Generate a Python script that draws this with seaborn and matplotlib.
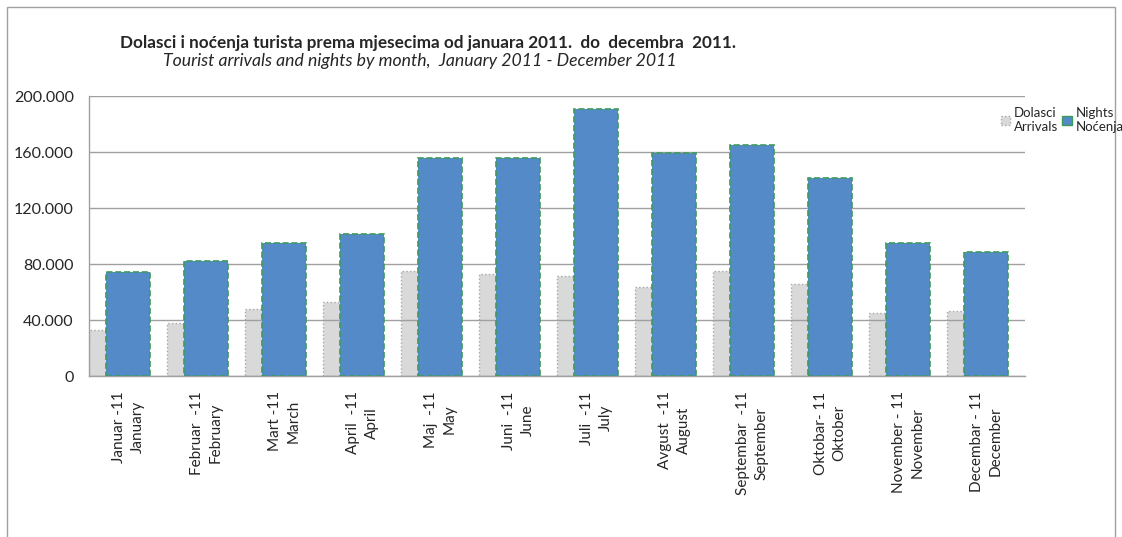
import numpy as np
import pandas as pd
import matplotlib
matplotlib.use('Agg')
import matplotlib.pyplot as plt
import seaborn as sns
from matplotlib.patches import Patch, Rectangle
from matplotlib.ticker import FuncFormatter

# Podaci (procijenjeni sa slike)
mjeseci = [
    'Januar -11\nJanuary', 'Februar  -11\nFebruary', 'Mart -11\nMarch',
    'April  -11\nApril', 'Maj  -11\nMay', 'Juni  -11\nJune',
    'Juli  -11\nJuly', 'Avgust  -11\nAugust', 'Septembar  -11\nSeptember',
    'Oktobar- 11\nOktober', 'November - 11\nNovember', 'Decembar - 11\nDecember'
]
dolasci = [32800, 37600, 47700, 52700, 75000, 72800, 71400, 63500, 75200, 65800, 45000, 46200]
nocenja = [74400, 82300, 95000, 101400, 155700, 155700, 190700, 159000, 164800, 141400, 95000, 88600]
y_ticks = [0, 40000, 80000, 120000, 160000, 200000]

siva = '#d9d9d9'
plava = '#558ac9'
zelena = '#3e9a5c'

sns.set_style('white')
plt.rcParams['font.family'] = ['Lato', 'DejaVu Sans']

fig = plt.figure(figsize=(11.22, 5.37), dpi=100)
ax = fig.add_axes([89 / 1122, 1 - 376 / 537, 936 / 1122, 280 / 537])

# Dolasci: lijeva polovina kategorije (druga serija je prazna)
df_dol = pd.DataFrame({
    'mjesec': mjeseci * 2,
    'serija': ['Dolasci'] * 12 + ['prazno'] * 12,
    'vrijednost': dolasci + [0] * 12,
})
sns.barplot(data=df_dol, x='mjesec', y='vrijednost', hue='serija',
            hue_order=['Dolasci', 'prazno'], palette={'Dolasci': siva, 'prazno': 'white'},
            width=1.0, dodge=True, saturation=1, errorbar=None, legend=False, ax=ax)
for p in ax.patches:
    if p.get_height() == 0:
        p.set_linewidth(0)
    else:
        p.set_edgecolor('#a6a6a6')
        p.set_linestyle(':')
        p.set_linewidth(1.0)

ax.set_ylim(0, 200000)
ax.set_yticks(y_ticks)
ax.yaxis.set_major_formatter(FuncFormatter(lambda v, pos: f'{int(v):,}'.replace(',', '.')))
ax.yaxis.grid(True, color='#a0a0a0', linewidth=1.0)
ax.set_axisbelow(False)
ax.set_xlabel('')
ax.set_ylabel('')
for s in ['top', 'right']:
    ax.spines[s].set_visible(False)
for s in ['left', 'bottom']:
    ax.spines[s].set_color('#a0a0a0')
    ax.spines[s].set_linewidth(1.0)

# Noćenja na drugoj osi, iznad linija mreže
ax2 = ax.twinx()
sns.barplot(x=mjeseci, y=nocenja, color=plava, width=0.564, saturation=1,
            errorbar=None, edgecolor=zelena, linewidth=1.2, linestyle='--', ax=ax2)
ax2.set_ylim(0, 200000)
ax2.set_yticks([])
ax2.set_ylabel('')
for s in ['top', 'right', 'left', 'bottom']:
    ax2.spines[s].set_visible(False)

ax.set_xlim(-0.5, 11.5)
ax.set_xticks(range(12))
ax.set_xticklabels(mjeseci, rotation=90, fontsize=11, multialignment='center',
                   linespacing=1.45)
ax.tick_params(axis='x', length=0, pad=11)
ax.tick_params(axis='y', length=0, pad=11, labelsize=11.5)

# Naslov
fig.text(120 / 1122, 1 - 43 / 537,
         'Dolasci i noćenja turista prema mjesecima od januara 2011.  do  decembra  2011.',
         fontsize=12.3, fontweight='bold', ha='left', va='center')
fig.text(163 / 1122, 1 - 61 / 537,
         'Tourist arrivals and nights by month,  January 2011 - December 2011',
         fontsize=12.7, fontstyle='italic', ha='left', va='center')

# Legenda
handles = [Patch(facecolor=siva, edgecolor='#a6a6a6', linestyle=':'),
           Patch(facecolor=plava, edgecolor=zelena)]
leg = fig.legend(handles, ['Dolasci\nArrivals', 'Nights\nNoćenja'], ncol=2,
                 loc='upper left', bbox_to_anchor=(1001 / 1122, 1 - 107 / 537),
                 frameon=False, fontsize=9.5, handlelength=0.7, handleheight=0.7,
                 columnspacing=0.3, handletextpad=0.3, borderaxespad=0, borderpad=0)
for t in leg.get_texts():
    t.set_multialignment('left')

# Okvir oko grafikona
fig.patches.append(Rectangle((7 / 1122, -0.1), 1108 / 1122, 1.1 - 7 / 537,
                             transform=fig.transFigure, fill=False,
                             edgecolor='#a0a0a0', linewidth=1.0))

fig.savefig('out.png', dpi=100)
